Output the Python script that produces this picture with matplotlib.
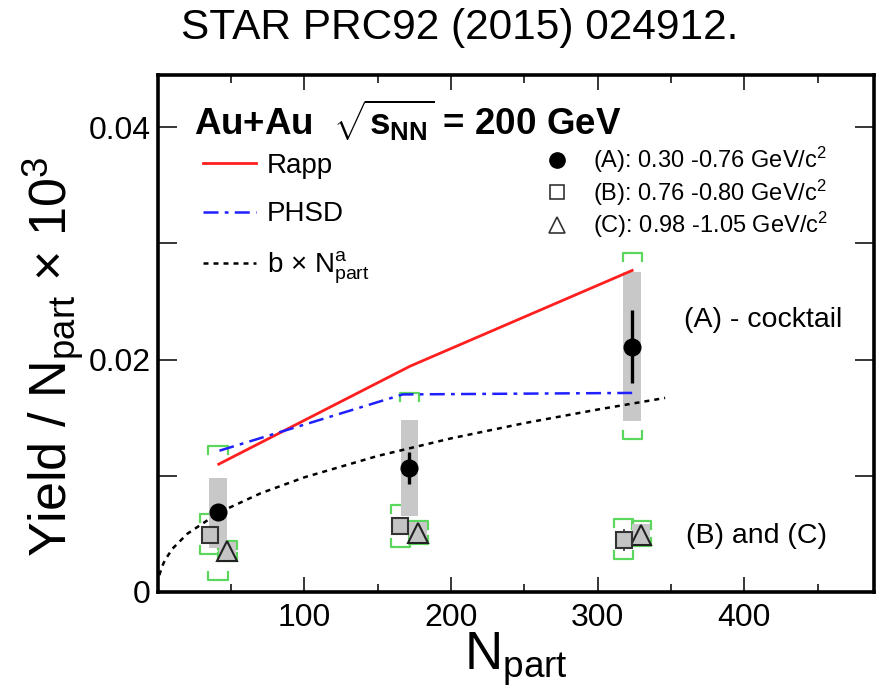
import numpy as np
import matplotlib
matplotlib.use("Agg")
import matplotlib.pyplot as plt
from matplotlib.lines import Line2D
from matplotlib.ticker import MultipleLocator, FixedLocator

plt.rcParams['font.family'] = 'Liberation Sans'
plt.rcParams['mathtext.fontset'] = 'custom'
plt.rcParams['mathtext.rm'] = 'Liberation Sans'
plt.rcParams['mathtext.it'] = 'Liberation Sans'
plt.rcParams['mathtext.bf'] = 'Liberation Sans:bold'

# (A) excess yield 0.30-0.76 GeV/c2
npart_A = [41.0, 171.5, 323.5]
yield_A = [0.00692, 0.01066, 0.02112]
stat_A = [0.0003, 0.00135, 0.00316]
sys_A_lo = [0.00377, 0.00655, 0.01474]
sys_A_hi = [0.00977, 0.01480, 0.02753]
brk_A_hi = [0.01259, 0.01713, 0.02916]
brk_A_lo = [0.00103, np.nan, 0.01316]

# (B) 0.76-0.80 GeV/c2
npart_B = [35.4, 165.3, 317.7]
yield_B = [0.00491, 0.00569, 0.00446]
stat_B = [0.0003, 0.0003, 0.00095]
brk_B_hi = [0.00672, 0.00750, 0.00627]
brk_B_lo = [0.00325, 0.00390, 0.00282]

# (C) 0.98-1.05 GeV/c2
npart_C = [47.4, 177.6, 329.7]
yield_C = [0.00356, 0.00509, 0.00491]
sys_C_lo = [0.00280, 0.00420, 0.00411]
sys_C_hi = [0.00430, 0.00600, 0.00584]
brk_C_hi = [0.00440, 0.00612, 0.00612]
brk_C_lo = [0.00267, 0.00411, 0.00397]

# model curves
rapp_n = [41.5, 172.0, 323.5]
rapp_y = [0.01100, 0.01943, 0.02767]
phsd_n = [42.0, 167.0, 323.5]
phsd_y = [0.01216, 0.01700, 0.01713]
fit_n = [1, 3, 5, 10, 20, 42, 70, 100, 150, 200, 250, 300, 346]
fit_y = [0.00145, 0.00224, 0.00278, 0.00373, 0.00500, 0.00686, 0.00849,
         0.00987, 0.01171, 0.01322, 0.01453, 0.01570, 0.01670]

green = '#5cd65c'
grey = '#c8c8c8'


def brackets(ax, xs, vals, up, width=13, leg=0.0007):
    # open green brackets, legs point toward the data point
    d = 1 if up else -1
    for x, v in zip(xs, vals):
        if np.isnan(v):
            continue
        ax.plot([x - width / 2, x - width / 2, x + width / 2, x + width / 2],
                [v - d * leg, v, v, v - d * leg], color=green, lw=1.6, zorder=1.5)


fig = plt.figure(figsize=(8.82, 6.91), dpi=100)
ax = fig.add_axes([0.179, 0.1433, 0.812, 0.748])

brackets(ax, npart_A, brk_A_hi, True)
brackets(ax, npart_A, brk_A_lo, False)
brackets(ax, npart_B, brk_B_hi, True)
brackets(ax, npart_B, brk_B_lo, False)
brackets(ax, npart_C, brk_C_hi, True)
brackets(ax, npart_C, brk_C_lo, False)

ax.bar(npart_A, np.subtract(sys_A_hi, sys_A_lo), bottom=sys_A_lo, width=12,
       color=grey, zorder=2)
ax.bar(npart_C, np.subtract(sys_C_hi, sys_C_lo), bottom=sys_C_lo, width=12,
       color=grey, zorder=2)

l_rapp, = ax.plot(rapp_n, rapp_y, color='#ff1f1f', lw=2.0, zorder=3, label='Rapp')
l_phsd, = ax.plot(phsd_n, phsd_y, color='#1f1fff', lw=1.8, ls=(0, (6, 2.5, 1.5, 2.5)),
                  zorder=3, label='PHSD')
l_fit, = ax.plot(fit_n, fit_y, color='black', lw=1.8, ls=(0, (2, 2)), zorder=3,
                 label=r'b $\times$ N$^{\rm a}_{\rm part}$')

ax.errorbar(npart_A, yield_A, yerr=stat_A, fmt='o', color='black', ms=12,
            elinewidth=2.4, capsize=0, zorder=6)
ax.errorbar(npart_B, yield_B, yerr=stat_B, fmt='s', mfc='#c4c4c4', mec='#333333',
            ecolor='#333333', ms=12, mew=1.5, elinewidth=1.2, capsize=0, zorder=5)
ax.plot(npart_C, yield_C, '^', mfc='#c4c4c4', mec='#222222', ms=14, mew=1.5, zorder=5)

ax.set_xlim(0, 488.5)
ax.set_ylim(0, 0.04448)

ax.xaxis.set_major_locator(MultipleLocator(100))
ax.xaxis.set_minor_locator(MultipleLocator(50))
ax.yaxis.set_major_locator(FixedLocator([0, 0.02, 0.04]))
ax.yaxis.set_minor_locator(MultipleLocator(0.01))
ax.xaxis.set_major_formatter(lambda v, p: '' if v == 0 else '%d' % v)
ax.yaxis.set_major_formatter(lambda v, p: '0' if v == 0 else '%.2f' % v)

ax.tick_params(which='both', direction='in', top=True, right=True, labelsize=23)
ax.tick_params(axis='x', which='major', length=11, width=1.1, pad=8)
ax.tick_params(axis='x', which='minor', length=5.5, width=1.1)
ax.tick_params(axis='y', which='both', length=14, width=1.1, pad=5)
for s in ax.spines.values():
    s.set_linewidth(2.6)

ax.set_xlabel(r'N$_{\rm part}$', fontsize=38)
ax.xaxis.set_label_coords(0.5, -0.075)
ax.set_ylabel(r'Yield / N$_{\rm part}$ $\times$ 10$^3$', fontsize=37.5)
ax.yaxis.set_label_coords(-0.1, 0.455)

leg1 = ax.legend(handles=[l_rapp, l_phsd, l_fit], loc='upper left',
                 bbox_to_anchor=(0.063, 0.85), frameon=False, fontsize=20,
                 handlelength=1.9, handletextpad=0.4, labelspacing=0.82,
                 borderpad=0, borderaxespad=0)
ax.add_artist(leg1)

h_A = Line2D([], [], ls='none', marker='o', color='black', ms=11)
h_B = Line2D([], [], ls='none', marker='s', mfc='white', mec='#333333', ms=10, mew=1.2)
h_C = Line2D([], [], ls='none', marker='^', mfc='white', mec='#333333', ms=12, mew=1.2)
ax.legend(handles=[h_A, h_B, h_C],
          labels=[r'(A): 0.30 -0.76 GeV/c$^2$', r'(B): 0.76 -0.80 GeV/c$^2$',
                  r'(C): 0.98 -1.05 GeV/c$^2$'],
          loc='upper left', bbox_to_anchor=(0.5405, 0.865), frameon=False,
          fontsize=17, handlelength=1.0, handletextpad=1.05, labelspacing=0.1,
          borderpad=0, borderaxespad=0)

ax.text(0.0503, 0.885, r'Au+Au  $\sqrt{\mathbf{s}_{\mathbf{NN}}}$ = 200 GeV',
        transform=ax.transAxes, fontsize=26.5, fontweight='bold', va='baseline')
ax.text(0.7346, 0.526, '(A) - cocktail', transform=ax.transAxes, fontsize=20.5,
        va='center')
ax.text(0.7374, 0.1083, '(B) and (C)', transform=ax.transAxes, fontsize=20.5,
        va='center')

fig.text(0.5216, 0.9595, 'STAR PRC92 (2015) 024912.', fontsize=30.5,
         ha='center', va='center')

fig.savefig('out.png', dpi=100)
